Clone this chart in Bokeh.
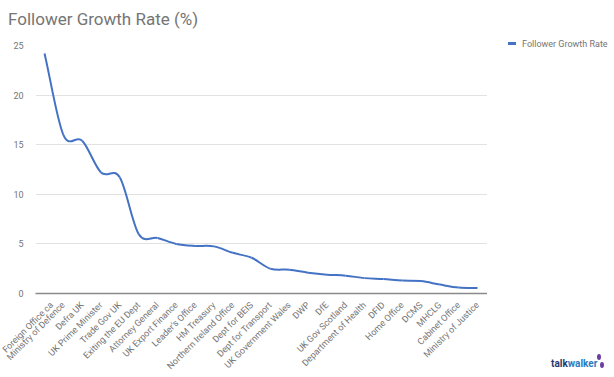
import numpy as np
from bokeh.plotting import figure
from bokeh.layouts import row, column
from bokeh.models import ColumnDataSource, FixedTicker, Range1d, Div
from bokeh.embed import file_html
from bokeh.resources import INLINE

# ---- data ----
accounts = [
    "Foreign Office ca", "Ministry of Defence", "Defra UK", "UK Prime Minister",
    "Trade Gov UK", "Exiting the EU Dept", "Attorney General", "UK Export Finance",
    "Leader's Office", "HM Treasury", "Northern Ireland Office", "Dept for BEIS",
    "Dept for Transport", "UK Government Wales", "DWP", "DfE", "UK Gov Scotland",
    "Department of Health", "DFID", "Home Office", "DCMS", "MHCLG",
    "Cabinet Office", "Ministry of Justice",
]
growth_rate = [24.2, 16.0, 15.4, 12.2, 11.7, 6.0, 5.6, 5.0, 4.8, 4.75, 4.1, 3.6,
               2.5, 2.4, 2.1, 1.9, 1.8, 1.55, 1.45, 1.3, 1.25, 0.9, 0.6, 0.55]
y_ticks = [0, 5, 10, 15, 20, 25]
series_name = "Follower Growth Rate"
chart_title = "Follower Growth Rate (%)"
logo_parts = ["talk", "walker"]

FONT = "Roboto"
LINE_COLOR = "#4472C4"
TXT = "#757575"

n = len(accounts)
xs = np.arange(n, dtype=float)
ys = np.array(growth_rate, dtype=float)

# Catmull-Rom tangents -> cubic bezier control points (smooth curve like the source)
m = np.zeros(n)
m[1:-1] = (ys[2:] - ys[:-2]) / 2.0
m[0] = ys[1] - ys[0]
m[-1] = ys[-1] - ys[-2]
seg = ColumnDataSource(dict(
    x0=xs[:-1], y0=ys[:-1], x1=xs[1:], y1=ys[1:],
    cx0=xs[:-1] + 1/3, cy0=ys[:-1] + m[:-1] / 3,
    cx1=xs[1:] - 1/3, cy1=ys[1:] - m[1:] / 3,
))

p = figure(width=487, height=342, output_backend="svg", toolbar_location=None,
           x_range=Range1d(-0.48, n - 1 + 0.53), y_range=Range1d(0, 25),
           min_border_left=35, min_border_right=0, min_border_top=10,
           min_border_bottom=83)
p.outline_line_color = None
p.background_fill_color = "white"
p.border_fill_color = "white"

p.bezier(x0="x0", y0="y0", x1="x1", y1="y1", cx0="cx0", cy0="cy0",
         cx1="cx1", cy1="cy1", source=seg, line_color=LINE_COLOR, line_width=2)

# axes
p.xaxis.ticker = FixedTicker(ticks=list(range(n)))
p.xaxis.major_label_overrides = {i: a for i, a in enumerate(accounts)}
p.xaxis.major_label_orientation = np.pi / 4
p.xaxis.major_tick_line_color = None
p.xaxis.minor_tick_line_color = None
p.xaxis.axis_line_color = "#8a8a8a"
p.xaxis.axis_line_width = 1.5
p.xaxis.major_label_text_font = FONT
p.xaxis.major_label_text_font_size = "9px"
p.xaxis.major_label_text_color = TXT
p.xaxis.major_label_standoff = 4

p.yaxis.ticker = FixedTicker(ticks=y_ticks)
p.yaxis.axis_line_color = None
p.yaxis.major_tick_line_color = None
p.yaxis.minor_tick_line_color = None
p.yaxis.major_label_text_font = FONT
p.yaxis.major_label_text_font_size = "9px"
p.yaxis.major_label_text_color = TXT
p.yaxis.major_label_standoff = 6

p.xgrid.grid_line_color = None
p.ygrid.ticker = FixedTicker(ticks=y_ticks)
p.ygrid.grid_line_color = "#e2e2e2"
p.ygrid.grid_line_width = 1

# ---- title, legend and logo as text blocks around the plot ----
title_html = (
    f'<div style="position:relative;width:614px;height:35px;font-family:{FONT};">'
    f'<div style="position:absolute;left:8px;top:9px;font-size:17px;line-height:20px;'
    f'color:{TXT};white-space:nowrap;">{chart_title}</div></div>'
)
legend_html = (
    f'<div style="position:relative;width:127px;height:287px;font-family:{FONT};">'
    f'<div style="position:absolute;left:21px;top:7px;width:8px;height:3px;'
    f'background:{LINE_COLOR};"></div>'
    f'<div style="position:absolute;left:35px;top:3px;font-size:9px;line-height:12px;'
    f'color:{TXT};white-space:nowrap;">{series_name}</div></div>'
)
logo_html = (
    f'<div style="position:relative;width:127px;height:55px;font-family:{FONT};">'
    f'<div style="position:absolute;left:64px;top:36px;font-size:10px;line-height:12px;'
    f'font-weight:bold;white-space:nowrap;">'
    f'<span style="color:#1f3a6e;">{logo_parts[0]}</span>'
    f'<span style="color:#2b7bc0;">{logo_parts[1]}</span></div>'
    f'<div style="position:absolute;left:110px;top:32px;width:4px;height:6px;'
    f'border-radius:50%;background:#6b3fa0;"></div>'
    f'<div style="position:absolute;left:113px;top:40px;width:4px;height:6px;'
    f'border-radius:50%;background:#6b3fa0;"></div></div>'
)
title_div = Div(text=title_html, width=614, height=35, margin=0)
legend_div = Div(text=legend_html, width=127, height=287, margin=0)
logo_div = Div(text=logo_html, width=127, height=55, margin=0)

layout = column(
    title_div,
    row(p, column(legend_div, logo_div, spacing=0, margin=0), spacing=0, margin=0),
    spacing=0, margin=0,
)
open("out.html", "w").write(file_html(layout, INLINE))
